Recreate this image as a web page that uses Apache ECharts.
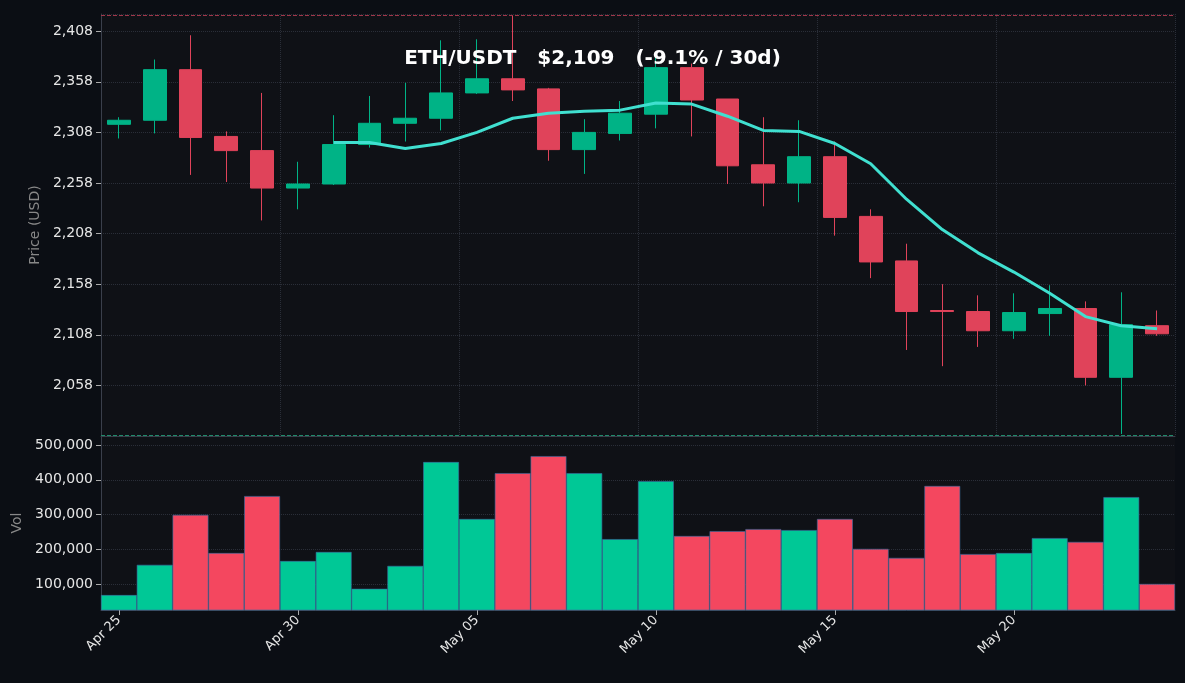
<!DOCTYPE html>
<html><head><meta charset="utf-8">
<script src="https://cdn.jsdelivr.net/npm/echarts@6/dist/echarts.min.js"></script>
<style>html,body{margin:0;background:#0b0e14;}#c{width:1185px;height:683px;}</style>
</head><body><div id="c"></div>
<script>
const dates = ['Apr 25','Apr 26','Apr 27','Apr 28','Apr 29','Apr 30','May 01','May 02','May 03','May 04','May 05','May 06','May 07','May 08','May 09','May 10','May 11','May 12','May 13','May 14','May 15','May 16','May 17','May 18','May 19','May 20','May 21','May 22','May 23','May 24'];
// [open, close, low, high]
const opens  = [2316,2320,2370,2304,2290,2253,2257,2296,2317,2322,2347,2361,2351,2291,2307,2326,2372,2341,2276,2258,2284,2225,2181,2132,2131,2112,2129,2134,2066,2117];
const closes = [2320,2370,2303,2290,2253,2257,2296,2317,2322,2347,2361,2350,2291,2308,2327,2372,2340,2275,2258,2284,2224,2180,2131,2131,2112,2130,2134,2066,2118,2109];
const lows   = [2302,2307,2266,2259,2221,2232,2256,2293,2299,2310,2346,2339,2280,2267,2300,2312,2304,2257,2235,2239,2206,2164,2093,2077,2096,2104,2107,2058,2010,2107];
const highs  = [2323,2380,2404,2309,2347,2279,2325,2344,2357,2399,2400,2424,2352,2321,2339,2385,2376,2341,2323,2320,2299,2232,2198,2158,2147,2149,2157,2141,2150,2132];
const ma7 = ['-','-','-','-','-','-',2298,2298,2292,2297,2308,2322,2327,2329,2330,2337,2336,2324,2310,2309,2297,2277,2242,2212,2189,2170,2149,2126,2117,2114];
const volumes = [68000,155000,299000,189000,353000,166000,192000,86000,152000,451000,287000,419000,468000,419000,229000,396000,238000,252000,258000,255000,287000,201000,175000,382000,186000,189000,232000,221000,350000,100000];

const UP='#00b386', DOWN='#e0435a', VUP='#00c896', VDOWN='#f4475f';
const candle = dates.map((d,i)=>[opens[i],closes[i],lows[i],highs[i]]);
const vol = volumes.map((v,i)=>({value:v,itemStyle:{color: closes[i]>=opens[i]?VUP:VDOWN}}));
const chart = echarts.init(document.getElementById('c'));
const gridLine = {show:true,lineStyle:{color:'#2a2e38',type:'dotted'}};
chart.setOption({
  backgroundColor:'#0b0e14',
  animation:false,
  title:{text:'ETH/USDT   $2,109   (-9.1% / 30d)',left:'center',top:44,
    textStyle:{color:'#ffffff',fontSize:20,fontWeight:'bold',fontFamily:'DejaVu Sans'}},
  grid:[{left:101,right:10,top:14,height:422,show:true,backgroundColor:'#0f1116',borderWidth:0},
        {left:101,right:10,top:436,bottom:73,show:true,backgroundColor:'#0f1116',borderWidth:0}],
  xAxis:[
    {type:'category',data:dates,gridIndex:0,boundaryGap:true,
     axisLine:{lineStyle:{color:'#3a3f4b'}},axisTick:{show:false},axisLabel:{show:false},
     splitLine:{show:true,interval:4,lineStyle:{color:'#2a2e38',type:'dotted'}}},
    {type:'category',data:dates,gridIndex:1,boundaryGap:true,
     axisLine:{lineStyle:{color:'#3a3f4b'}},axisTick:{show:true,interval:4,alignWithLabel:true,lineStyle:{color:'#aaa'}},
     axisLabel:{interval:4,rotate:45,color:'#e6e6e6',fontSize:13,fontFamily:'DejaVu Sans'},
     splitLine:{show:false}}
  ],
  yAxis:[
    {type:'value',gridIndex:0,min:2008,max:2425,interval:50,
     name:'Price (USD)',nameLocation:'middle',nameGap:56,nameTextStyle:{color:'#888',fontSize:14,fontFamily:'DejaVu Sans'},
     axisLine:{show:true,lineStyle:{color:'#3a3f4b'}},axisTick:{show:true,lineStyle:{color:'#aaa'}},
     axisLabel:{color:'#e6e6e6',fontSize:14,fontFamily:'DejaVu Sans',showMinLabel:false,showMaxLabel:false},
     splitLine:gridLine},
    {type:'value',gridIndex:1,min:25000,max:526000,splitNumber:5,
     name:'Vol',nameLocation:'middle',nameGap:76,nameTextStyle:{color:'#888',fontSize:14,fontFamily:'DejaVu Sans'},
     axisLine:{show:true,lineStyle:{color:'#3a3f4b'}},axisTick:{show:true,lineStyle:{color:'#aaa'}},
     axisLabel:{color:'#e6e6e6',fontSize:14,fontFamily:'DejaVu Sans',showMinLabel:false,showMaxLabel:false},
     splitLine:gridLine}
  ],
  series:[
    {type:'candlestick',xAxisIndex:0,yAxisIndex:0,data:candle,barWidth:'65%',
     itemStyle:{color:UP,color0:DOWN,borderColor:UP,borderColor0:DOWN,borderWidth:1},
     markLine:{symbol:'none',silent:true,label:{show:false},
       data:[{yAxis:2424,lineStyle:{color:'#a0364a',type:'dashed',width:1}},
             {yAxis:2009,lineStyle:{color:'#1f8a6a',type:'dashed',width:1}}]}},
    {type:'line',xAxisIndex:0,yAxisIndex:0,data:ma7,symbol:'none',smooth:false,
     lineStyle:{color:'#40e0d0',width:3}},
    {type:'bar',xAxisIndex:1,yAxisIndex:1,data:vol,barCategoryGap:'0%',
     itemStyle:{borderColor:'#3a6ea5',borderWidth:0.6}}
  ]
});
</script></body></html>
